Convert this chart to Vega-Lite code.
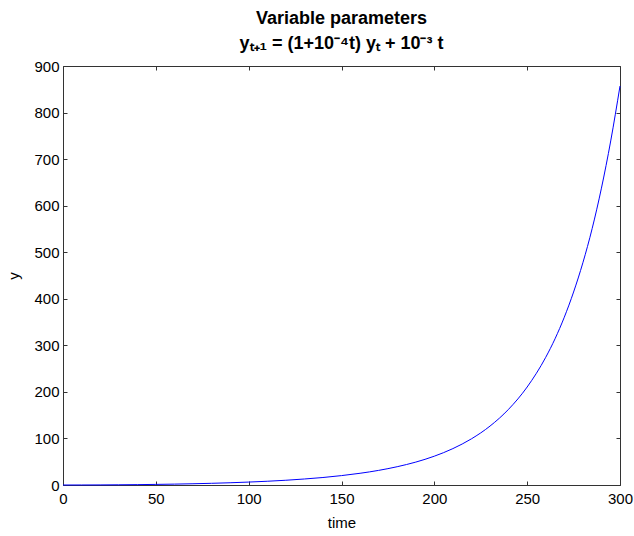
{
  "$schema": "https://vega.github.io/schema/vega-lite/v6.json",
  "autosize": "none",
  "width": 557,
  "height": 419,
  "padding": {"left": 63, "top": 66, "right": 14, "bottom": 51},
  "background": "white",
  "title": {
    "text": ["Variable parameters", "yₜ₊₁ = (1+10⁻⁴t) yₜ + 10⁻³ t"],
    "font": "Liberation Sans",
    "fontSize": 18,
    "fontWeight": "bold",
    "color": "black",
    "lineHeight": 25,
    "anchor": "middle",
    "offset": 6
  },
  "config": {
    "view": {"stroke": null},
    "axis": {
      "labelFont": "Liberation Sans",
      "titleFont": "Liberation Sans",
      "labelFontSize": 15,
      "titleFontSize": 15,
      "titleFontWeight": "normal",
      "labelColor": "black",
      "titleColor": "black",
      "domainColor": "#333333",
      "tickColor": "#333333",
      "tickSize": -4,
      "labelFlush": false,
      "labelOverlap": false,
      "grid": false
    }
  },
  "data": {
    "values": [
      {"time": 0, "y": 0}, {"time": 10, "y": 0.04}, {"time": 20, "y": 0.19},
      {"time": 30, "y": 0.44}, {"time": 40, "y": 0.79}, {"time": 50, "y": 1.28},
      {"time": 60, "y": 1.9}, {"time": 70, "y": 2.68}, {"time": 80, "y": 3.64},
      {"time": 90, "y": 4.83}, {"time": 100, "y": 6.28}, {"time": 110, "y": 8.05},
      {"time": 120, "y": 10.2}, {"time": 130, "y": 12.9}, {"time": 140, "y": 16.1},
      {"time": 150, "y": 20.2}, {"time": 160, "y": 25.2}, {"time": 170, "y": 31.4},
      {"time": 180, "y": 39.3}, {"time": 190, "y": 49.2}, {"time": 200, "y": 61.9},
      {"time": 210, "y": 78.2}, {"time": 220, "y": 99.2}, {"time": 230, "y": 126.6},
      {"time": 240, "y": 162.7}, {"time": 250, "y": 210.5}, {"time": 260, "y": 274.3},
      {"time": 265, "y": 314}, {"time": 270, "y": 360.4}, {"time": 275, "y": 414.5},
      {"time": 280, "y": 477.3}, {"time": 285, "y": 550.8}, {"time": 290, "y": 637.6},
      {"time": 295, "y": 739}, {"time": 300, "y": 857}
    ]
  },
  "layer": [
    {
      "mark": {"type": "line", "color": "#0000ff", "strokeWidth": 1, "interpolate": "monotone"},
      "encoding": {
        "x": {"field": "time", "type": "quantitative", "scale": {"domain": [0, 300], "nice": false},
              "axis": {"title": "time", "values": [0, 50, 100, 150, 200, 250, 300], "labelPadding": 10, "titlePadding": 9}},
        "y": {"field": "y", "type": "quantitative", "scale": {"domain": [0, 900], "nice": false},
              "axis": {"title": "y", "values": [0, 100, 200, 300, 400, 500, 600, 700, 800, 900], "labelPadding": 8, "titlePadding": 12}}
      }
    },
    {
      "mark": {"type": "line", "opacity": 0},
      "encoding": {
        "x": {"field": "time", "type": "quantitative", "scale": {"domain": [0, 300], "nice": false},
              "axis": {"orient": "top", "title": null, "labels": false, "values": [0, 50, 100, 150, 200, 250, 300]}},
        "y": {"field": "y", "type": "quantitative", "scale": {"domain": [0, 900], "nice": false},
              "axis": {"orient": "right", "title": null, "labels": false, "values": [0, 100, 200, 300, 400, 500, 600, 700, 800, 900]}}
      }
    }
  ],
  "resolve": {"axis": {"x": "independent", "y": "independent"}}
}
